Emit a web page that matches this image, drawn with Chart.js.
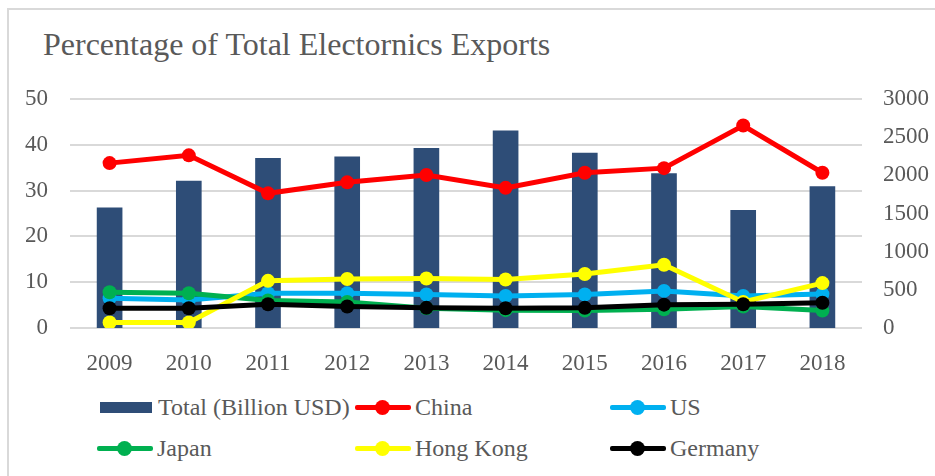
<!DOCTYPE html>
<html>
<head>
<meta charset="utf-8">
<script src="https://cdn.jsdelivr.net/npm/chart.js@4/dist/chart.umd.min.js"></script>
<style>
  body { margin: 0; width: 935px; height: 476px; overflow: hidden; background: #fff; position: relative; font-family: "Liberation Serif", "Times New Roman", serif; }
  #caption { position: absolute; left: -6px; top: -28px; font-size: 24px; font-weight: bold; color: #000; white-space: nowrap; }
  #frame { position: absolute; left: 7px; top: 8px; width: 1000px; height: 600px; border: 2px solid #d9d9d9; }
  #title { position: absolute; left: 43px; top: 28px; font-size: 32px; line-height: 32px; color: #595959; white-space: nowrap; }
  #wrap { position: absolute; left: 0; top: 0; width: 935px; height: 380px; }
  #legend { position: absolute; left: 97px; top: 387px; display: grid; grid-template-columns: 258px 255px auto; grid-auto-rows: 41px; }
  .item { display: flex; align-items: center; font-size: 24px; color: #595959; white-space: nowrap; }
  .box { width: 52px; height: 11px; margin: 0 6px 0 3px; }
  .sym { position: relative; width: 56px; height: 15px; margin-right: 4px; }
  .sym .ln { position: absolute; left: 0; right: 0; top: 5px; height: 5px; border-radius: 2px; }
  .sym .dot { position: absolute; left: 20px; top: 0; width: 15px; height: 15px; border-radius: 50%; }
</style>
</head>
<body>
<div id="caption">Figure 3: Electronics Exports Share by Country by Year</div>
<div id="frame"></div>
<div id="title">Percentage of Total Electornics Exports</div>
<div id="wrap"><canvas id="chart"></canvas></div>
<div id="legend"></div>
<script>
// years on the x axis
const years = ['2009', '2010', '2011', '2012', '2013', '2014', '2015', '2016', '2017', '2018'];

// total electronics exports, billion USD (right axis)
const total = [1573, 1926, 2224, 2241, 2355, 2582, 2293, 2022, 1542, 1852];

// share of total exports, % (left axis)
const china = [36.0, 37.7, 29.4, 31.8, 33.4, 30.6, 33.9, 34.9, 44.2, 33.9];
const us = [6.5, 6.1, 7.6, 7.6, 7.3, 7.0, 7.3, 8.1, 7.0, 7.4];
const japan = [7.8, 7.6, 6.0, 5.7, 4.3, 3.9, 3.8, 4.1, 4.7, 3.8];
const hongKong = [1.2, 1.2, 10.3, 10.7, 10.8, 10.6, 11.8, 13.8, 5.7, 9.8];
const germany = [4.3, 4.3, 5.2, 4.7, 4.4, 4.3, 4.4, 5.1, 5.2, 5.5];

const leftTicks = [0, 10, 20, 30, 40, 50];
const rightTicks = [0, 500, 1000, 1500, 2000, 2500, 3000];

const textColor = '#595959';
const gridColor = '#d9d9d9';
const tickFont = { family: 'Liberation Serif', size: 23 };

function lineSet(label, data, color, order) {
  return {
    type: 'line',
    label: label,
    data: data,
    yAxisID: 'y',
    borderColor: color,
    backgroundColor: color,
    borderWidth: 5,
    pointRadius: 7,
    pointBorderWidth: 0,
    pointBackgroundColor: color,
    tension: 0,
    order: order
  };
}

// builds the legend in html, in three columns like the original
const htmlLegend = {
  id: 'htmlLegend',
  afterUpdate(chart) {
    const box = document.getElementById('legend');
    box.innerHTML = '';
    chart.data.datasets.forEach(ds => {
      const item = document.createElement('div');
      item.className = 'item';
      if (ds.type === 'bar') {
        item.innerHTML = `<span class="box" style="background:${ds.backgroundColor}"></span>${ds.label}`;
      } else {
        item.innerHTML = `<span class="sym"><span class="ln" style="background:${ds.borderColor}"></span>` +
          `<span class="dot" style="background:${ds.borderColor}"></span></span>${ds.label}`;
      }
      box.appendChild(item);
    });
  }
};

new Chart(document.getElementById('chart'), {
  data: {
    labels: years,
    datasets: [
      {
        type: 'bar',
        label: 'Total (Billion USD)',
        data: total,
        yAxisID: 'y1',
        backgroundColor: '#2e4d77',
        barThickness: 25,
        order: 10
      },
      lineSet('China', china, '#ff0000', 5),
      lineSet('US', us, '#00b0f0', 4),
      lineSet('Japan', japan, '#00b050', 3),
      lineSet('Hong Kong', hongKong, '#ffff00', 2),
      lineSet('Germany', germany, '#000000', 1)
    ]
  },
  options: {
    responsive: true,
    maintainAspectRatio: false,
    animation: false,
    layout: { padding: { top: 99, left: 0, right: 0, bottom: 0 } },
    plugins: {
      legend: { display: false },
      title: { display: false },
      tooltip: { enabled: false }
    },
    scales: {
      x: {
        offset: true,
        grid: { display: false },
        border: { display: false },
        ticks: { color: textColor, font: tickFont, padding: 14, maxRotation: 0 },
        afterFit(scale) { scale.height = 52; }
      },
      y: {
        position: 'left',
        min: 0,
        max: 50,
        afterBuildTicks(scale) { scale.ticks = leftTicks.map(v => ({ value: v })); },
        grid: { color: gridColor, lineWidth: 2, drawTicks: false },
        border: { display: false },
        ticks: { color: textColor, font: tickFont, padding: 22, callback: v => String(v) },
        afterFit(scale) { scale.width = 70; }
      },
      y1: {
        position: 'right',
        min: 0,
        max: 3000,
        afterBuildTicks(scale) { scale.ticks = rightTicks.map(v => ({ value: v })); },
        grid: { display: false, drawTicks: false },
        border: { display: false },
        ticks: { color: textColor, font: tickFont, padding: 21, callback: v => String(v) },
        afterFit(scale) { scale.width = 73; }
      }
    }
  },
  plugins: [htmlLegend]
});
</script>
</body>
</html>
